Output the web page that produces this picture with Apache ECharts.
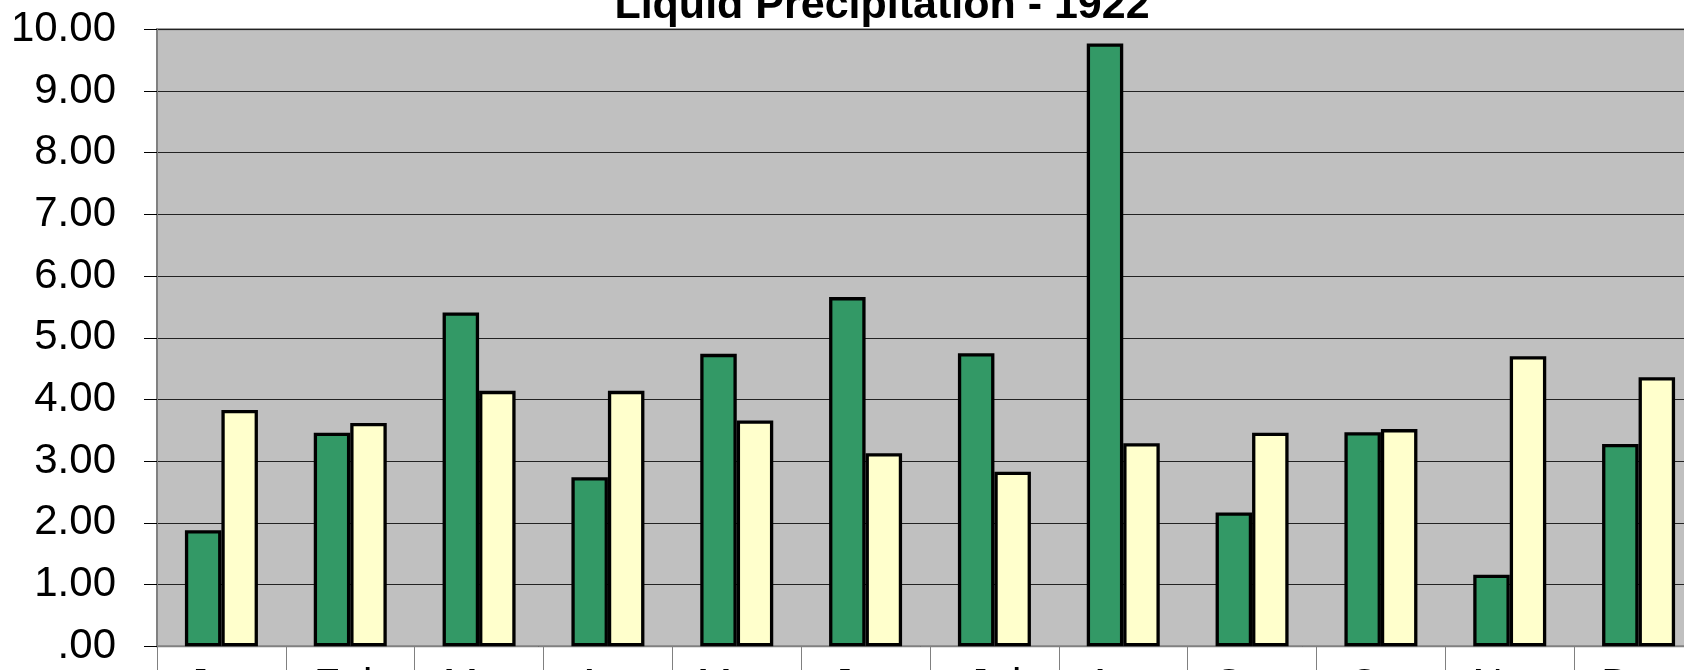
<!DOCTYPE html>
<html>
<head>
<meta charset="utf-8">
<title>Liquid Precipitation - 1922</title>
<script src="https://cdn.jsdelivr.net/npm/echarts@6/dist/echarts.min.js"></script>
<style>
  html, body { margin: 0; padding: 0; background: #fff; }
  #chart { width: 1684px; height: 670px; }
</style>
</head>
<body>
<div id="chart"></div>
<script>
// months along the bottom
var months = ['Jan', 'Feb', 'Mar', 'Apr', 'May', 'Jun', 'Jul', 'Aug', 'Sep', 'Oct', 'Nov', 'Dec'];
// 1922 liquid precipitation (green bars)
var precip1922 = [1.88, 3.46, 5.41, 2.74, 4.74, 5.66, 4.75, 9.77, 2.17, 3.47, 1.16, 3.28];
// comparison series (pale yellow bars)
var precipNormal = [3.83, 3.62, 4.14, 4.14, 3.66, 3.13, 2.83, 3.29, 3.46, 3.52, 4.70, 4.36];

var font = '"Liberation Sans", Arial, sans-serif';

// 初始化图表
var myChart = echarts.init(document.getElementById('chart'));

myChart.setOption({
    animation: false,
    graphic: [{
        type: 'text',
        x: 882,
        y: 6,
        style: {
            text: 'Liquid Precipitation - 1922',
            font: 'bold 43px ' + font,
            fill: '#000',
            align: 'center',
            verticalAlign: 'middle'
        }
    }],
    grid: {
        left: 157,
        top: 29.3,
        width: 1546,
        height: 617,
        outerBoundsMode: 'none',
        containLabel: false,
        show: true,
        backgroundColor: '#C0C0C0',
        borderColor: '#808080',
        borderWidth: 2
    },
    xAxis: {
        type: 'category',
        data: months,
        axisLine: { lineStyle: { color: '#808080', width: 1 } },
        axisTick: { show: true, length: 40, lineStyle: { color: '#808080' } },
        axisLabel: { fontFamily: font, fontSize: 42, color: '#000', margin: 19 }
    },
    yAxis: {
        type: 'value',
        min: 0,
        max: 10,
        interval: 1,
        axisLine: { show: true, lineStyle: { color: '#808080', width: 2 } },
        axisTick: { show: true, length: 13, lineStyle: { color: '#000' } },
        axisLabel: {
            fontFamily: font,
            fontSize: 42,
            color: '#000',
            margin: 41,
            formatter: function (v) { return v.toFixed(2).replace(/^0\./, '.'); }
        },
        splitLine: { lineStyle: { color: '#222', width: 1 } }
    },
    series: [{
        name: '1922',
        type: 'bar',
        data: precip1922,
        barWidth: 36.5,
        barGap: '0%',
        itemStyle: { color: '#339966', borderColor: '#000', borderWidth: 3.3 }
    }, {
        name: 'Normal',
        type: 'bar',
        data: precipNormal,
        barWidth: 36.5,
        itemStyle: { color: '#FFFFCC', borderColor: '#000', borderWidth: 3.3 }
    }]
});
</script>
</body>
</html>
